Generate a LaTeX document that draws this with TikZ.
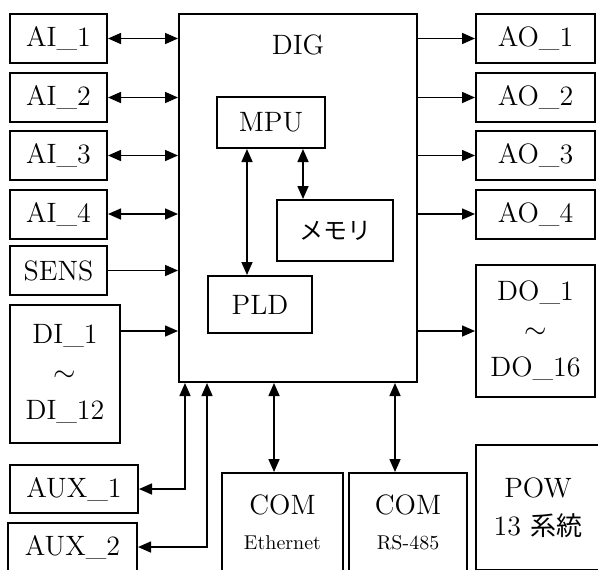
\documentclass[tikz,border=0pt]{standalone}
\usepackage{fontspec}
\usepackage{tikz}
\usetikzlibrary{arrows.meta}
\newfontfamily\jpfont{Noto Sans CJK JP}
\tikzset{
  blk/.style  ={draw, rectangle, inner sep=0pt, line width=1pt,
                font=\fontsize{14}{19}\selectfont, align=center},
  iob/.style  ={blk, minimum width=48.5pt, minimum height=24.5pt},
  aob/.style  ={blk, minimum width=59.5pt, minimum height=24.5pt},
  comb/.style ={blk, minimum height=49.5pt,
                font=\fontsize{14}{17.5}\selectfont},
  arr/.style  ={-{Triangle[length=6.5pt, width=5.5pt]}, line width=0.8pt},
  barr/.style ={{Triangle[length=6.5pt, width=5.5pt]}-{Triangle[length=6.5pt, width=5.5pt]},
                line width=0.8pt},
}

\begin{document}
\begin{tikzpicture}[x=0.5pt, y=-0.5pt]
  \useasboundingbox (0,0) rectangle (598,569);
  \clip (0,0) rectangle (598,569);
  % digital board
  \node[blk, minimum width=119pt, minimum height=184pt] (dig) at (298,198) {};
  \node[font=\fontsize{14}{16}\selectfont] (diglbl) at (298,45) {DIG};
  \node[blk, minimum width=54pt, minimum height=25.5pt] (mpu) at (271,122.5) {MPU};
  \node[blk, minimum width=58pt, minimum height=30.5pt,
        font=\jpfont\fontsize{12}{14}\selectfont] (mem) at (335,230.5) {メモリ};
  \node[blk, minimum width=52pt, minimum height=28.5pt] (pld) at (260,304.5) {PLD};
  \draw[barr] ([xshift=-12pt]mpu.south) -- ([xshift=-12pt]mpu.south |- pld.north);
  \draw[barr] ([xshift=-16pt]mem.north |- mpu.south) -- ([xshift=-16pt]mem.north);
  % inputs
  \node[iob] (ai1) at (58.5,38.5) {AI\_1};
  \node[iob] (ai2) at (58.5,97.5) {AI\_2};
  \node[iob] (ai3) at (58.5,155.5) {AI\_3};
  \node[iob] (ai4) at (58.5,214) {AI\_4};
  \node[iob] (sens) at (58.5,270.5) {SENS};
  \node[blk, minimum width=55pt, minimum height=69pt] (di) at (65,374)
    {DI\_1\\$\sim$\\DI\_12};
  \foreach \n in {ai1,ai2,ai3,ai4}
    \draw[barr] (\n) -- (\n -| dig.west);
  \draw[arr] (sens) -- (sens -| dig.west);
  % outputs
  \node[aob] (ao1) at (535.5,38.5) {AO\_1};
  \node[aob] (ao2) at (535.5,97.5) {AO\_2};
  \node[aob] (ao3) at (535.5,155.5) {AO\_3};
  \node[aob] (ao4) at (535.5,214) {AO\_4};
  \node[blk, minimum width=59.5pt, minimum height=66pt] (do) at (535.5,331)
    {DO\_1\\$\sim$\\DO\_16};
  \foreach \n in {ao1,ao2,ao3,ao4}
    \draw[arr] (dig.east |- \n) -- (\n);
  \draw[arr] (dig.east |- do.west) -- (do);
  \draw[arr] (di.east |- do.west) -- (dig.west |- do.west);
  % aux and communication
  \node[blk, minimum width=64pt, minimum height=24pt] (aux1) at (74,489) {AUX\_1};
  \node[blk, minimum width=64.5pt, minimum height=24pt] (aux2) at (72.5,547) {AUX\_2};
  \draw[barr] (aux1) -| ([xshift=3.5pt]dig.south west);
  \draw[barr] (aux2) -| ([xshift=14.5pt]dig.south west);
  \node[comb, minimum width=60.5pt] (eth) at (282.5,522.5) {COM\\{\fontsize{10}{11}\selectfont Ethernet}};
  \node[comb, minimum width=59pt] (rs) at (408,522.5) {COM\\{\fontsize{10}{11}\selectfont RS-485}};
  \draw[barr] ([xshift=-4.25pt]eth.north |- dig.south) -- ([xshift=-4.25pt]eth.north);
  \draw[barr] ([xshift=-6.5pt]rs.north |- dig.south) -- ([xshift=-6.5pt]rs.north);
  % power
  \node[blk, minimum width=62pt, minimum height=62.5pt] (pow) at (538,507.5)
    {POW\\13 {\jpfont\fontsize{13}{19}\selectfont 系統}};
\end{tikzpicture}
\end{document}
